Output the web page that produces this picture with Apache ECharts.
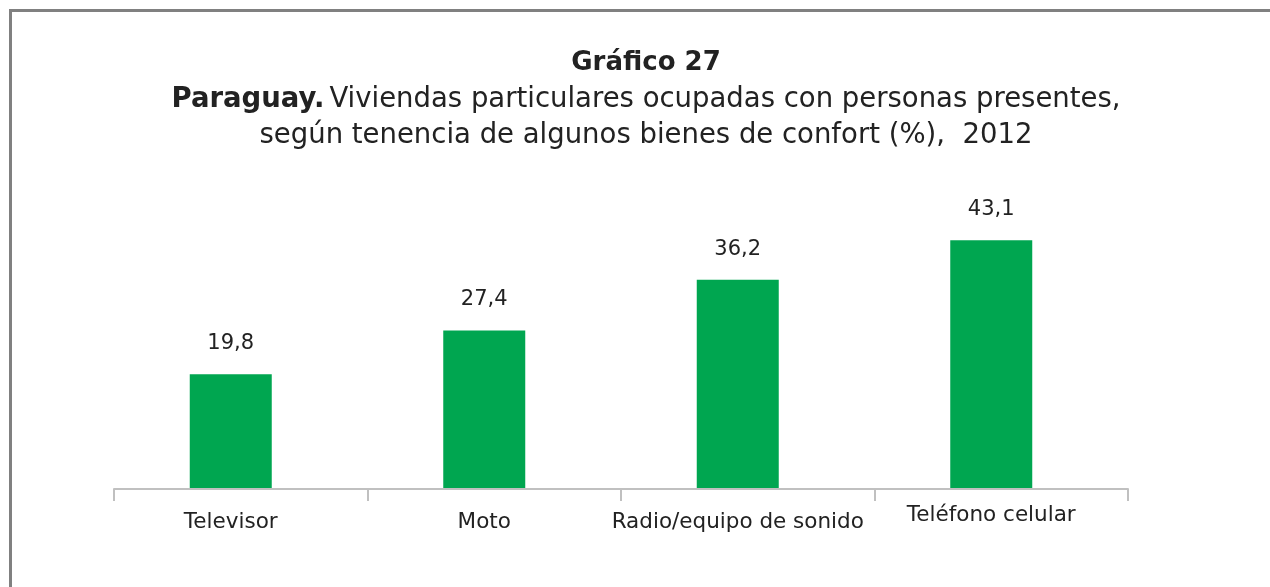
<!DOCTYPE html>
<html>
<head>
<meta charset="utf-8">
<script src="https://cdn.jsdelivr.net/npm/echarts@6/dist/echarts.min.js"></script>
<style>
  html, body { margin: 0; padding: 0; background: #fff; }
  #frame { position: absolute; left: 9px; top: 9px; width: 1400px; height: 700px; border-left: 3px solid #808080; border-top: 3px solid #808080; }
  #chart { position: absolute; left: 0; top: 0; width: 1270px; height: 587px; }
</style>
</head>
<body>
<div id="frame"></div>
<div id="chart"></div>
<script>
const categories = ["Televisor", "Moto", "Radio/equipo de sonido", "Teléfono celular"];
const values = [19.8, 27.4, 36.2, 43.1];

const FONT = "DejaVu Sans";
const chart = echarts.init(document.getElementById("chart"));

chart.setOption({
  animation: false,
  title: {
    left: 641,
    top: 39,
    textAlign: "center",
    text:
      "{t|Gráfico 27}\n" +
      "{b|Paraguay.} {n|Viviendas particulares ocupadas con personas presentes,}\n" +
      "{n|según tenencia de algunos bienes de confort (%),  2012}",
    textStyle: {
      fontWeight: "normal",
      rich: {
        t: { fontFamily: FONT, fontSize: 26, fontWeight: "bold", color: "#222", lineHeight: 38 },
        b: { fontFamily: FONT, fontSize: 27.5, fontWeight: "bold", color: "#222", lineHeight: 36 },
        n: { fontFamily: FONT, fontSize: 27.5, fontWeight: "normal", color: "#222", lineHeight: 36 },
      },
    },
  },
  grid: [
    { left: 104, width: 1014, top: 200.5, bottom: 99 },
    { left: 114, right: 142, top: 200.5, bottom: 98 },
  ],
  xAxis: [
    {
      type: "category",
      gridIndex: 0,
      data: categories,
      axisLine: { show: false },
      axisTick: { show: false },
      axisLabel: {
        fontFamily: FONT,
        fontSize: 21.5,
        color: "#222",
        margin: 23,
        interval: 0,
        formatter: (v) => (v === "Teléfono celular" ? "{u|" + v + "}" : v),
        rich: {
          u: { fontFamily: FONT, fontSize: 21.5, color: "#222", lineHeight: 8 },
        },
      },
    },
    {
      type: "category",
      gridIndex: 1,
      data: categories,
      axisLine: { show: true, lineStyle: { color: "#c0c0c0", width: 2 } },
      axisTick: { show: true, length: 12, lineStyle: { color: "#c0c0c0", width: 2 } },
      axisLabel: { show: false },
    },
  ],
  yAxis: [
    { type: "value", gridIndex: 0, min: 0, max: 50, show: false },
    { type: "value", gridIndex: 1, min: 0, max: 50, show: false },
  ],
  series: [
    {
      type: "bar",
      xAxisIndex: 0,
      yAxisIndex: 0,
      data: values,
      barWidth: 82,
      itemStyle: { color: "#00a650" },
      label: {
        show: true,
        position: "top",
        distance: 20,
        fontFamily: FONT,
        fontSize: 21,
        color: "#222",
        formatter: (p) => p.value.toFixed(1).replace(".", ","),
      },
    },
  ],
});

window.addEventListener("resize", () => {
  chart.resize();
});
</script>
</body>
</html>
